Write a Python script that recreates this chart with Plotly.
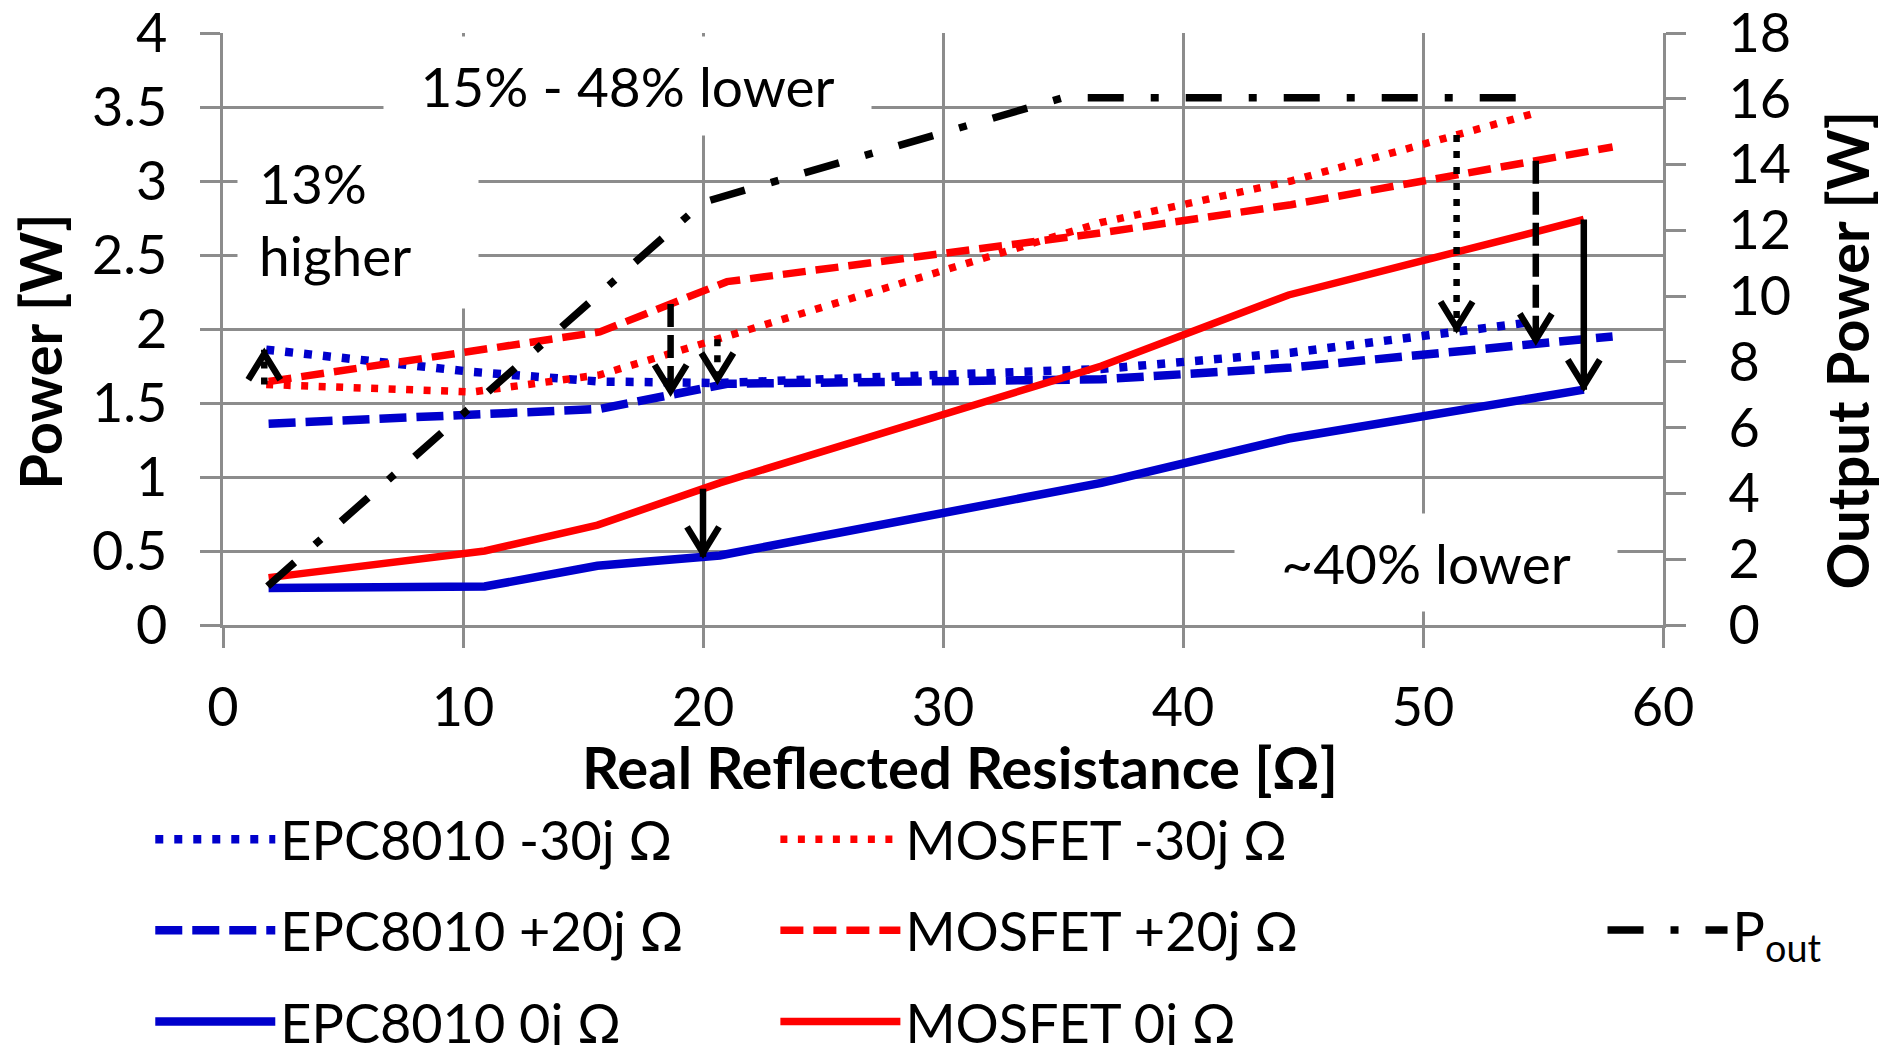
import numpy as np
import plotly.graph_objects as go

# ---------------- data ----------------
epc_m30_x = [1.8, 10.4, 15.7, 20.6, 36.6, 44.5, 54.7]
epc_m30_y = [1.86, 1.71, 1.645, 1.635, 1.73, 1.84, 2.05]
mos_m30_x = [1.8, 10.4, 15.7, 20.6, 36.6, 44.5, 54.7]
mos_m30_y = [1.625, 1.575, 1.69, 1.93, 2.72, 3.0, 3.46]

epc_p20_x = [1.9, 10.9, 15.7, 21.0, 36.6, 44.5, 57.9]
epc_p20_y = [1.36, 1.43, 1.46, 1.63, 1.66, 1.74, 1.95]
mos_p20_x = [1.9, 10.9, 15.7, 21.0, 36.6, 44.5, 57.9]
mos_p20_y = [1.645, 1.86, 1.98, 2.32, 2.65, 2.84, 3.23]

epc_0_x = [1.9, 10.9, 15.6, 20.7, 36.6, 44.4, 56.7]
epc_0_y = [0.25, 0.26, 0.40, 0.47, 0.96, 1.26, 1.59]
mos_0_x = [1.9, 10.9, 15.6, 20.7, 36.6, 44.4, 56.7]
mos_0_y = [0.32, 0.50, 0.675, 0.96, 1.75, 2.23, 2.74]

pout_x = [1.86, 20.0, 35.0, 54.9]
pout_y = [1.18, 12.85, 16.03, 16.03]

# comparison arrows: x position and which MOSFET/EPC pair they connect
arrow_x = [1.72, 18.65, 20.6, 20.0, 51.4, 54.7, 56.7]
arrow_pair = ["m30", "p20", "m30", "0", "m30", "p20", "0"]

x_ticks = [0, 10, 20, 30, 40, 50, 60]

BLUE = "#0000CC"
RED = "#FF0000"
GRID = "#8C8C8C"
FONT = "Lato, 'Noto Sans', sans-serif"
FS = 54
FS_NOTE = 55

series = {
    "m30": ((mos_m30_x, mos_m30_y), (epc_m30_x, epc_m30_y), "7px,9px"),
    "p20": ((mos_p20_x, mos_p20_y), (epc_p20_x, epc_p20_y), "23px,8px"),
    "0": ((mos_0_x, mos_0_y), (epc_0_x, epc_0_y), "solid"),
}

fig = go.Figure()

def add(x, y, name, color, width, dash, legend, group, yaxis="y"):
    fig.add_trace(go.Scatter(
        x=x, y=y, mode="lines", name=name, yaxis=yaxis,
        line=dict(color=color, width=width, dash=dash),
        legend=legend, legendgroup=group, hoverinfo="skip"))

add(epc_m30_x, epc_m30_y, "EPC8010 -30j Ω", BLUE, 8.5, "8px,11px", "legend", "a")
add(mos_m30_x, mos_m30_y, "MOSFET -30j Ω", RED, 7.5, "7px,10.5px", "legend2", "b")
add(epc_p20_x, epc_p20_y, "EPC8010 +20j Ω", BLUE, 8.5, "27px,10px", "legend", "c")
add(mos_p20_x, mos_p20_y, "MOSFET +20j Ω", RED, 7.5, "23px,10px", "legend2", "d")
add(epc_0_x, epc_0_y, "EPC8010 0j Ω", BLUE, 8.5, "solid", "legend", "e")
add(mos_0_x, mos_0_y, "MOSFET 0j Ω", RED, 7.5, "solid", "legend2", "f")
add(pout_x, pout_y, "P<sub>out</sub>", "black", 7.5, "36px,27px,8px,27px", "legend3", "g", yaxis="y2")

# ---------------- arrows (shaft + open V head) ----------------
shapes = []
for ax_, key in zip(arrow_x, arrow_pair):
    (fx, fy), (tx, ty), dash = series[key]
    y_from = float(np.interp(ax_, fx, fy))
    y_to = float(np.interp(ax_, tx, ty))
    up = y_to > y_from
    shapes.append(dict(type="line", xref="x", yref="y", x0=ax_, x1=ax_,
                       y0=y_from, y1=y_to, layer="above",
                       line=dict(color="black", width=6.5, dash=dash)))
    s = -1 if up else 1
    shapes.append(dict(type="path", xref="x", yref="y", layer="above",
                       xsizemode="pixel", ysizemode="pixel",
                       xanchor=ax_, yanchor=y_to,
                       path=f"M-16,{s*30} L0,{s*4} L16,{s*30}",
                       line=dict(color="black", width=6.5)))

# ---------------- text boxes ----------------
annotations = [
    dict(text="15% - 48% lower", x=16.85, y=3.642, xref="x", yref="y",
         showarrow=False, width=487, height=98, borderpad=0, bgcolor="white",
         font=dict(family=FONT, size=FS_NOTE, color="black"), align="center"),
    dict(text="13%<br>higher", x=5.637, y=2.743, xref="x", yref="y",
         showarrow=False, width=198, height=136, borderpad=21, bgcolor="white",
         font=dict(family=FONT, size=FS_NOTE, color="black"), align="left", valign="middle"),
    dict(text="~40% lower", x=50.14, y=0.4257, xref="x", yref="y",
         showarrow=False, width=382, height=97, borderpad=0, bgcolor="white",
         font=dict(family=FONT, size=FS_NOTE, color="black"), align="center"),
    # axis titles
    dict(text="Real Reflected Resistance [Ω]", x=0.512, y=-0.2382, xref="paper", yref="paper",
         showarrow=False, xanchor="center", yanchor="middle",
         font=dict(family=FONT, size=58, color="black", weight="bold")),
    dict(text="Power [W]", x=-0.1279, y=0.4611, xref="paper", yref="paper", textangle=-90,
         showarrow=False, xanchor="center", yanchor="middle",
         font=dict(family=FONT, size=58, color="black", weight="bold")),
    dict(text="Output Power [W]", x=1.1274, y=0.4645, xref="paper", yref="paper", textangle=-90,
         showarrow=False, xanchor="center", yanchor="middle",
         font=dict(family=FONT, size=58, color="black", weight="bold")),
]

axis_common = dict(showline=True, linecolor=GRID, linewidth=2.5,
                   ticks="outside", ticklen=20, tickwidth=2.5, tickcolor=GRID,
                   tickfont=dict(family=FONT, size=FS, color="black"),
                   ticklabeloverflow="allow", zeroline=False, fixedrange=True)

leg_common = dict(orientation="v", xanchor="left", yanchor="top",
                  bgcolor="rgba(0,0,0,0)", borderwidth=0, itemwidth=120,
                  tracegroupgap=18, font=dict(family=FONT, size=FS, color="black"),
                  itemclick=False, itemdoubleclick=False)

fig.update_layout(
    width=1881, height=1045,
    margin=dict(l=223, r=218, t=33, b=420, autoexpand=False),
    paper_bgcolor="white", plot_bgcolor="white",
    xaxis=dict(range=[0, 60], tickvals=x_ticks, showgrid=True, gridcolor=GRID, gridwidth=2.5,
               ticklabelstandoff=13, **axis_common),
    yaxis=dict(range=[0, 4], dtick=0.5, showgrid=True, gridcolor=GRID, gridwidth=2.5,
               ticklabelstandoff=22, **axis_common),
    yaxis2=dict(range=[0, 18], dtick=2, overlaying="y", side="right", showgrid=False,
                ticklabelstandoff=32, **axis_common),
    legend=dict(x=-0.0505, y=-0.2915, **leg_common),
    legend2=dict(x=0.3836, y=-0.2915, **leg_common),
    legend3=dict(x=0.9580, y=-0.445, **leg_common),
    shapes=shapes,
    annotations=annotations,
    showlegend=True,
    hovermode=False,
)

fig.write_html("out.html", config={"displayModeBar": False, "responsive": False},
               post_script="document.body.style.margin='0';")
